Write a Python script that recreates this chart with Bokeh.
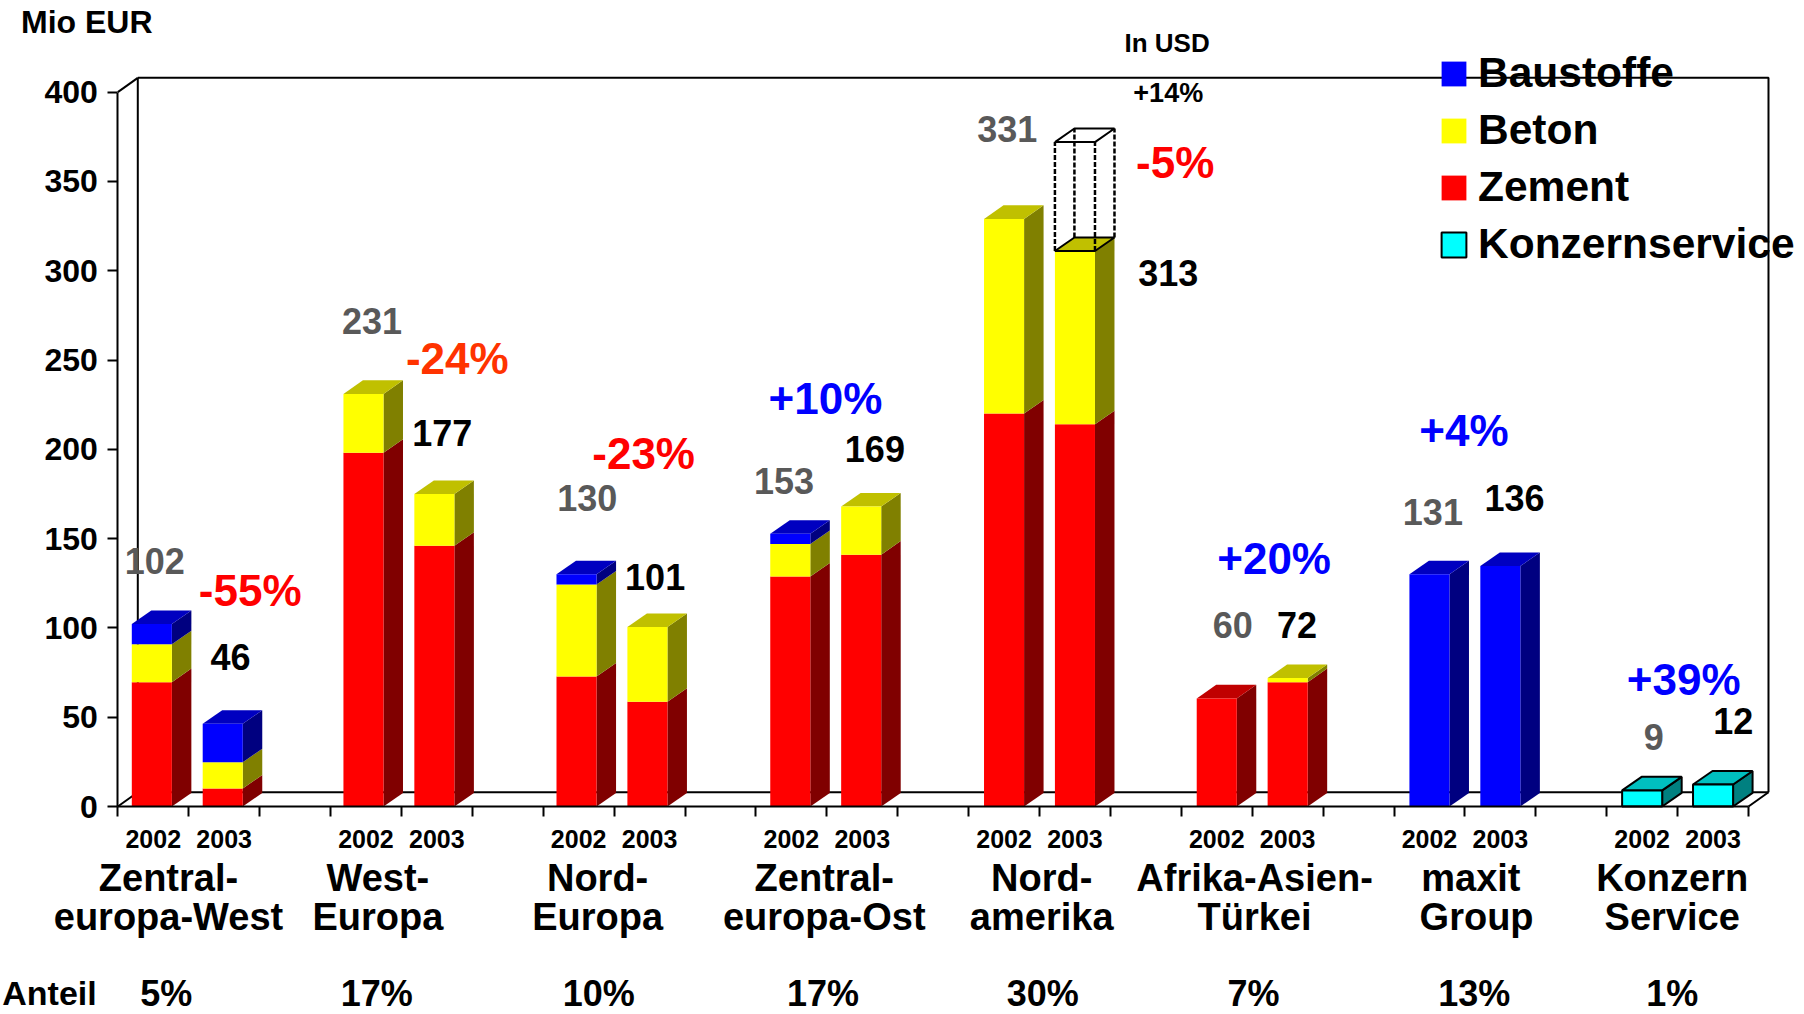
from bokeh.embed import file_html
from bokeh.resources import INLINE
from bokeh.plotting import figure
from bokeh.models import Range1d, FixedTicker, Label, Legend, LegendItem

# ---------- data ----------
YEARS = ["2002", "2003"]
ZEMENT_2002 = [69.6, 198, 72.8, 128.8, 220, 60.5, 0, 0]
BETON_2002 = [21.2, 33, 51.5, 18.2, 109, 0, 0, 0]
BAUSTOFFE_2002 = [11.4, 0, 5.7, 5.7, 0, 0, 130, 0]
SERVICE_2002 = [0, 0, 0, 0, 0, 0, 0, 9]
ZEMENT_2003 = [10.1, 146, 58.6, 141, 214, 69.6, 0, 0]
BETON_2003 = [14.7, 29, 41.9, 27, 97, 2.3, 0, 0]
BAUSTOFFE_2003 = [21.5, 0, 0, 0, 0, 0, 134.6, 0]
SERVICE_2003 = [0, 0, 0, 0, 0, 0, 0, 12.3]
USD_OUTLINE_TOP = 372
TOTAL_2002 = ["102", "231", "130", "153", "331", "60", "131", "9"]
TOTAL_2003 = ["46", "177", "101", "169", "313", "72", "136", "12"]
CHANGE = ["-55%", "-24%", "-23%", "+10%", "-5%", "+20%", "+4%", "+39%"]
GROUP_LINE1 = ["Zentral-", "West-", "Nord-", "Zentral-", "Nord-", "Afrika-Asien-", "maxit", "Konzern"]
GROUP_LINE2 = ["europa-West", "Europa", "Europa", "europa-Ost", "amerika", "Türkei", "Group", "Service"]
SHARE = ["5%", "17%", "10%", "17%", "30%", "7%", "13%", "1%"]
Y_TICKS = [0, 50, 100, 150, 200, 250, 300, 350, 400]
SERIES = ["Zement", "Beton", "Baustoffe", "Konzernservice"]

# ---------- layout (pixels on the page and styles) ----------
W, H = 1804, 1014
LEFT, BOTTOM = 117.3, 806
SLOT = 70.9
UNIT = 1.786
BAR = 0.565
BAR_SHIFT = [-0.02, -0.035, -0.03, -0.015, 0, 0, 0, 0]
DX, DY = 0.275, 7.6
WALL_DX, WALL_DY = 0.282, 8.0
FONT = "Liberation Sans"
COL = {"Zement": ("#ff0000", "#800000", "#c00000"),
       "Beton": ("#ffff00", "#808000", "#c0c000"),
       "Baustoffe": ("#0000ff", "#000080", "#0000c0"),
       "Konzernservice": ("#00ffff", "#008080", "#00c0c0")}
CHANGE_COL = ["#ff0000", "#ff3300", "#ff0000", "#0000ff", "#ff0000", "#0000ff", "#0000ff", "#0000ff"]
K = 1.1505
POS_2002 = [(134, 487), (323, 279), (510, 432), (681, 418), (875, 112), (1071, 543), (1245, 445), (1437, 640)]
POS_2003 = [(200, 571), (384, 376), (569, 501), (760, 390), (1015, 237), (1127, 543), (1316, 432), (1506, 626)]
POS_CHANGE = [(217, 513), (397, 311), (559, 394), (717, 346), (1021, 141), (1107, 485), (1272, 374), (1463, 590)]
POS_L1 = [146, 328, 519, 716, 905, 1090, 1278, 1453]
POS_L2 = [146, 328, 519, 716, 905, 1090, 1283, 1453]
POS_SHARE = [144, 327, 520, 715, 906, 1089, 1281, 1453]
SHARE_Y = 863


def dx(px):
    return (px * K - LEFT) / SLOT


def dy(py):
    return (BOTTOM - py * K) / UNIT


p = figure(width=W, height=H,
           x_range=Range1d(-LEFT / SLOT, (W - LEFT) / SLOT),
           y_range=Range1d(-(H - BOTTOM) / UNIT, BOTTOM / UNIT),
           output_backend="svg", toolbar_location=None, tools="",
           min_border=0, outline_line_color=None)
p.grid.visible = False

# wall and floor of the 3D box
wall = dict(line_color="black", line_width=2)
p.line([0, WALL_DX], [400, 400 + WALL_DY], **wall)
p.line([0, WALL_DX], [0, WALL_DY], **wall)
p.line([WALL_DX, WALL_DX], [WALL_DY, 400 + WALL_DY], **wall)
p.line([WALL_DX, 23 + WALL_DX, 23 + WALL_DX], [400 + WALL_DY, 400 + WALL_DY, WALL_DY], **wall)
p.line([WALL_DX, 23 + WALL_DX], [WALL_DY, WALL_DY], **wall)
p.line([23, 23 + WALL_DX], [0, WALL_DY], **wall)

# bars
fronts = {s: dict(left=[], right=[], bottom=[], top=[]) for s in SERIES}
sides = {s: dict(xs=[], ys=[]) for s in SERIES}
tops = {s: dict(xs=[], ys=[]) for s in SERIES}
tables = [dict(Zement=ZEMENT_2002, Beton=BETON_2002, Baustoffe=BAUSTOFFE_2002, Konzernservice=SERVICE_2002),
          dict(Zement=ZEMENT_2003, Beton=BETON_2003, Baustoffe=BAUSTOFFE_2003, Konzernservice=SERVICE_2003)]
for g in range(len(SHARE)):
    for j, tb in enumerate(tables):
        c = 3 * g + j + 0.5 + BAR_SHIFT[g]
        x0, x1 = c - BAR / 2, c + BAR / 2
        base = 0
        last = None
        for s in SERIES:
            v = tb[s][g]
            if v <= 0:
                continue
            f = fronts[s]
            f["left"].append(x0); f["right"].append(x1); f["bottom"].append(base); f["top"].append(base + v)
            sides[s]["xs"].append([x1, x1 + DX, x1 + DX, x1])
            sides[s]["ys"].append([base, base + DY, base + v + DY, base + v])
            base += v
            last = s
        tops[last]["xs"].append([x0, x1, x1 + DX, x0 + DX])
        tops[last]["ys"].append([base, base, base + DY, base + DY])

renderers = {}
for s in SERIES:
    front, side, topc = COL[s]
    outline = dict(line_color="black", line_width=2) if s == "Konzernservice" else dict(line_color=None)
    p.patches(sides[s]["xs"], sides[s]["ys"], fill_color=side, **outline)
    p.patches(tops[s]["xs"], tops[s]["ys"], fill_color=topc, **outline)
    renderers[s] = p.quad(fill_color=front, **fronts[s], **outline)

# dashed USD outline on the Nordamerika 2003 bar
c = 3 * 4 + 1 + 0.5
x0, x1 = c - BAR / 2, c + BAR / 2
base = ZEMENT_2003[4] + BETON_2003[4]
t = USD_OUTLINE_TOP
dash = dict(line_color="black", line_width=2.5, line_dash="5 2")
p.patch([x0, x0 + DX, x1 + DX, x1], [base, base + DY, base + DY, base], fill_color="#c0c000", line_color="black", line_width=2)
p.line([x0, x0], [base, t], **dash)
p.line([x1, x1], [base, t], **dash)
p.line([x1 + DX, x1 + DX], [base + DY, t + DY], **dash)
p.line([x0 + DX, x0 + DX], [base + DY, t + DY], **dash)
p.line([x0, x1, x1 + DX, x0 + DX, x0], [t, t, t + DY, t + DY, t], line_color="black", line_width=2)

# axes (fixed at the data origin, inside the full-page frame)
yax = p.yaxis[0]
yax.fixed_location = 0
yax.ticker = FixedTicker(ticks=Y_TICKS)
yax.bounds = (0, 400)
yax.axis_line_width = 2
yax.axis_line_color = "black"
yax.major_tick_line_width = 2
yax.major_tick_line_color = "black"
yax.major_tick_in = 0
yax.major_tick_out = 10
yax.minor_tick_line_color = None
yax.major_label_standoff = 10
yax.major_label_text_font = FONT
yax.major_label_text_font_style = "bold"
yax.major_label_text_font_size = "32px"
yax.major_label_text_color = "black"

mids = [3 * g + j + 0.5 for g in range(len(SHARE)) for j in range(2)]
xax = p.xaxis[0]
xax.fixed_location = 0
xax.ticker = FixedTicker(ticks=mids, minor_ticks=list(range(24)))
xax.major_label_overrides = {m: YEARS[i % 2] for i, m in enumerate(mids)}
xax.bounds = (0, 23)
xax.axis_line_width = 2
xax.axis_line_color = "black"
xax.major_tick_line_color = None
xax.major_tick_in = 0
xax.major_tick_out = 0
xax.minor_tick_line_width = 2
xax.minor_tick_line_color = "black"
xax.minor_tick_in = 0
xax.minor_tick_out = 10
xax.major_label_standoff = 13
xax.major_label_text_font = FONT
xax.major_label_text_font_style = "bold"
xax.major_label_text_font_size = "25px"
xax.major_label_text_color = "black"


def label(text, px, py, size, color="black"):
    p.add_layout(Label(x=dx(px), y=dy(py), text=text, text_font=FONT, text_font_style="bold",
                       text_font_size=f"{size}px", text_color=color, text_align="center",
                       text_baseline="middle"))


for i in range(len(SHARE)):
    label(TOTAL_2002[i], *POS_2002[i], 36, "#595959")
    label(TOTAL_2003[i], *POS_2003[i], 36)
    label(CHANGE[i], *POS_CHANGE[i], 44, CHANGE_COL[i])
    label(GROUP_LINE1[i], POS_L1[i], 763, 38)
    label(GROUP_LINE2[i], POS_L2[i], 797, 38)
    label(SHARE[i], POS_SHARE[i], SHARE_Y, 36)
label("Mio EUR", 75, 19, 32)
label("In USD", 1014, 37, 26)
label("+14%", 1015, 80, 27)
label("Anteil", 42.6, SHARE_Y, 34)

# legend
order = ["Baustoffe", "Beton", "Zement", "Konzernservice"]
leg = Legend(items=[LegendItem(label=s, renderers=[renderers[s]]) for s in order],
             location=(1438, H - 268), orientation="vertical",
             background_fill_alpha=0, border_line_color=None, padding=0, margin=0,
             glyph_width=31, glyph_height=31, label_standoff=9, spacing=9, label_height=47,
             label_text_font=FONT, label_text_font_style="bold",
             label_text_font_size="42.5px", label_text_color="black")
p.add_layout(leg)

open("out.html", "w").write(file_html(p, INLINE))
